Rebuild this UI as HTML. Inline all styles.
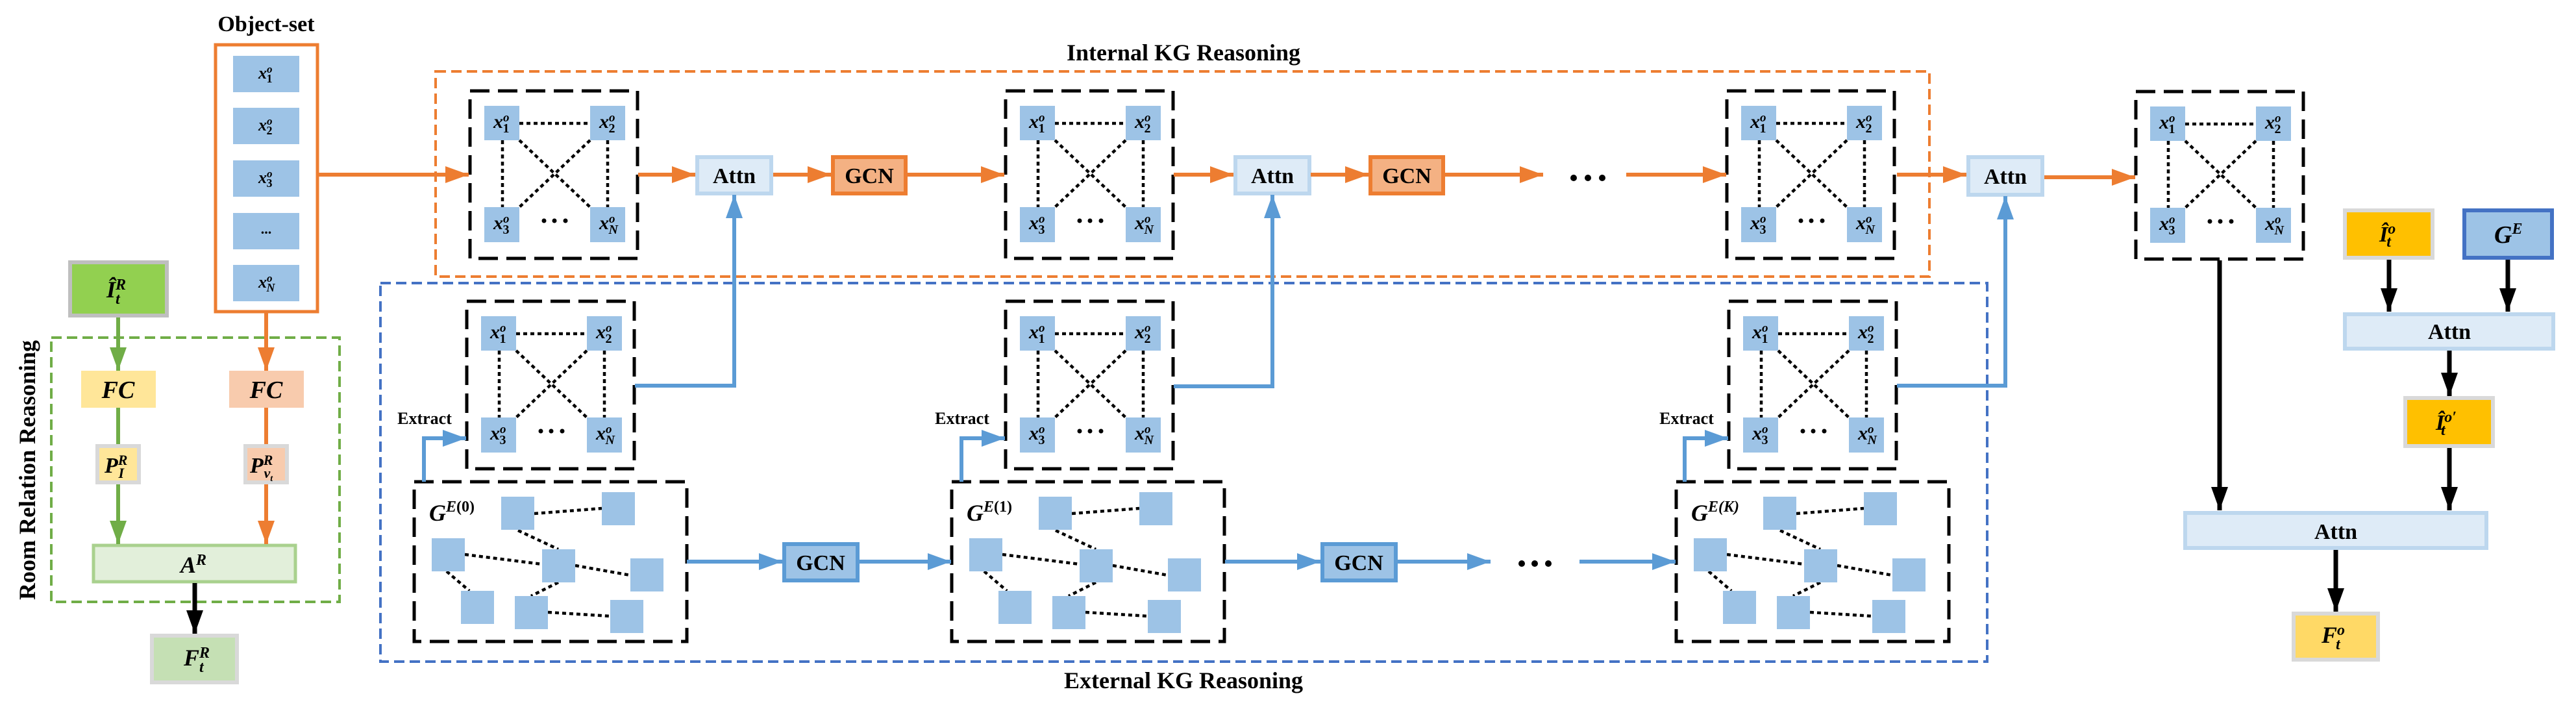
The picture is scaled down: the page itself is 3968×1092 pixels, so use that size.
<!DOCTYPE html>
<html><head><meta charset="utf-8"><style>
html,body{margin:0;padding:0;background:#fff;}
svg{display:block}
.t{font-family:"Liberation Serif",serif;font-weight:bold;fill:#000}
.m{font-family:"Liberation Serif",serif;font-weight:bold;font-style:italic;fill:#000}
.gb{fill:none;stroke:#000;stroke-width:5;stroke-dasharray:30 13}
.nd{fill:#9dc3e6}
.dl{stroke:#000;stroke-width:4.5;stroke-dasharray:6 5;fill:none}
.oa{stroke:#ed7d31;stroke-width:6;fill:none}
.ba{stroke:#5b9bd5;stroke-width:6;fill:none}
.ka{stroke:#000;stroke-width:7;fill:none}
.ga{stroke:#70ad47;stroke-width:6;fill:none}
</style></head><body>
<svg width="3968" height="1092" viewBox="0 0 3968 1092" xmlns="http://www.w3.org/2000/svg">
<defs>
<marker id="mo" markerUnits="userSpaceOnUse" markerWidth="40" markerHeight="30" refX="36" refY="13" orient="auto"><path d="M0,0 L36,13 L0,26 z" fill="#ed7d31"/></marker>
<marker id="mb" markerUnits="userSpaceOnUse" markerWidth="40" markerHeight="30" refX="36" refY="13" orient="auto"><path d="M0,0 L36,13 L0,26 z" fill="#5b9bd5"/></marker>
<marker id="mk" markerUnits="userSpaceOnUse" markerWidth="40" markerHeight="30" refX="36" refY="13" orient="auto"><path d="M0,0 L36,13 L0,26 z" fill="#000"/></marker>
<marker id="mg" markerUnits="userSpaceOnUse" markerWidth="40" markerHeight="30" refX="36" refY="13" orient="auto"><path d="M0,0 L36,13 L0,26 z" fill="#70ad47"/></marker>
</defs>

<!-- region boxes -->
<rect x="671" y="110" width="2301" height="316" fill="none" stroke="#ed7d31" stroke-width="4" stroke-dasharray="16 8"/>
<rect x="586" y="436" width="2475" height="583" fill="none" stroke="#4472c4" stroke-width="4" stroke-dasharray="16 8"/>
<text class="t" x="1823" y="93" font-size="36" text-anchor="middle">Internal KG Reasoning</text>
<text class="t" x="1823" y="1060" font-size="36" text-anchor="middle">External KG Reasoning</text>

<!-- Object set -->
<text class="t" x="410" y="48" font-size="34" text-anchor="middle">Object-set</text>
<rect x="332" y="69" width="157" height="411" fill="#fff" stroke="#ed7d31" stroke-width="5"/>
<rect x="359" y="86" width="102" height="56" class="nd"/>
<rect x="359" y="166" width="102" height="56" class="nd"/>
<rect x="359" y="247" width="102" height="56" class="nd"/>
<rect x="359" y="328" width="102" height="56" class="nd"/>
<rect x="359" y="408" width="102" height="56" class="nd"/>
<text class="m" x="398" y="121" font-size="26">x<tspan dy="-9" font-size="17">o</tspan><tspan dx="-9" dy="15" font-size="18" font-style="normal">1</tspan></text>
<text class="m" x="398" y="201" font-size="26">x<tspan dy="-9" font-size="17">o</tspan><tspan dx="-9" dy="15" font-size="18" font-style="normal">2</tspan></text>
<text class="m" x="398" y="282" font-size="26">x<tspan dy="-9" font-size="17">o</tspan><tspan dx="-9" dy="15" font-size="18" font-style="normal">3</tspan></text>
<text class="t" x="410" y="360" font-size="22" text-anchor="middle">...</text>
<text class="m" x="398" y="443" font-size="26">x<tspan dy="-9" font-size="17">o</tspan><tspan dx="-9" dy="15" font-size="18">N</tspan></text>

<!-- Room relation -->
<text class="t" x="0" y="0" font-size="36" text-anchor="middle" transform="translate(54,724) rotate(-90)">Room Relation Reasoning</text>
<rect x="79" y="520" width="444" height="407" fill="none" stroke="#70ad47" stroke-width="4" stroke-dasharray="16 8"/>
<rect x="108" y="404" width="149" height="82" fill="#92d050" stroke="#bfbfbf" stroke-width="6"/>
<text class="m" x="164" y="458" font-size="36">Î<tspan dy="-12" font-size="24">R</tspan><tspan dx="-16" dy="22" font-size="24">t</tspan></text>
<rect x="125" y="571" width="115" height="57" fill="#ffe699"/>
<text class="m" x="182" y="613" font-size="38" text-anchor="middle">FC</text>
<rect x="353" y="571" width="115" height="57" fill="#f8cbad"/>
<text class="m" x="410" y="613" font-size="38" text-anchor="middle">FC</text>
<rect x="150" y="687" width="64" height="56" fill="#ffe699" stroke="#d9d9d9" stroke-width="6"/>
<text class="m" x="161" y="728" font-size="34">P<tspan dy="-12" font-size="22">R</tspan><tspan dx="-14" dy="20" font-size="22">I</tspan></text>
<rect x="378" y="687" width="64" height="56" fill="#f8cbad" stroke="#d9d9d9" stroke-width="6"/>
<text class="m" x="385" y="728" font-size="34">P<tspan dy="-12" font-size="22">R</tspan><tspan dx="-14" dy="20" font-size="22">v</tspan><tspan dy="5" font-size="14">t</tspan></text>
<rect x="144" y="840" width="311" height="56" fill="#e2efda" stroke="#a9d18e" stroke-width="5"/>
<text class="m" x="278" y="882" font-size="36">A<tspan dy="-12" font-size="24">R</tspan></text>
<rect x="234" y="979" width="131" height="72" fill="#c5e0b4" stroke="#d9d9d9" stroke-width="6"/>
<text class="m" x="283" y="1025" font-size="36">F<tspan dy="-12" font-size="24">R</tspan><tspan dx="-16" dy="22" font-size="24">t</tspan></text>
<line class="ga" x1="182" y1="489" x2="182" y2="571" marker-end="url(#mg)"/>
<line class="ga" x1="182" y1="628" x2="182" y2="684"/>
<line class="ga" x1="182" y1="746" x2="182" y2="838" marker-end="url(#mg)"/>
<line class="oa" x1="410" y1="482" x2="410" y2="571" marker-end="url(#mo)"/>
<line class="oa" x1="410" y1="628" x2="410" y2="684"/>
<line class="oa" x1="410" y1="746" x2="410" y2="838" marker-end="url(#mo)"/>
<line class="ka" x1="300" y1="898" x2="300" y2="976" marker-end="url(#mk)"/>

<!-- Graph boxes (x-set) -->
<g transform="translate(724,140)">
<rect x="0" y="0" width="258" height="258" class="gb"/>
<line class="dl" x1="76" y1="50" x2="185" y2="50"/><line class="dl" x1="50" y1="76" x2="50" y2="179"/><line class="dl" x1="212" y1="76" x2="212" y2="179"/><line class="dl" x1="76" y1="76" x2="185" y2="179"/><line class="dl" x1="185" y1="76" x2="76" y2="179"/>
<rect class="nd" x="22" y="23" width="54" height="53"/><rect class="nd" x="185" y="23" width="54" height="53"/><rect class="nd" x="22" y="179" width="54" height="54"/><rect class="nd" x="185" y="179" width="54" height="54"/>
<circle cx="114" cy="200" r="3.5"/><circle cx="130" cy="200" r="3.5"/><circle cx="147" cy="200" r="3.5"/>
<text class="m" x="36" y="57" font-size="30">x<tspan dy="-10" font-size="19">o</tspan><tspan dx="-10" dy="17" font-size="20" font-style="normal">1</tspan></text>
<text class="m" x="199" y="57" font-size="30">x<tspan dy="-10" font-size="19">o</tspan><tspan dx="-10" dy="17" font-size="20" font-style="normal">2</tspan></text>
<text class="m" x="36" y="213" font-size="30">x<tspan dy="-10" font-size="19">o</tspan><tspan dx="-10" dy="17" font-size="20" font-style="normal">3</tspan></text>
<text class="m" x="199" y="213" font-size="30">x<tspan dy="-10" font-size="19">o</tspan><tspan dx="-10" dy="17" font-size="20">N</tspan></text>
</g>
<g transform="translate(1549,140)">
<rect x="0" y="0" width="258" height="258" class="gb"/>
<line class="dl" x1="76" y1="50" x2="185" y2="50"/><line class="dl" x1="50" y1="76" x2="50" y2="179"/><line class="dl" x1="212" y1="76" x2="212" y2="179"/><line class="dl" x1="76" y1="76" x2="185" y2="179"/><line class="dl" x1="185" y1="76" x2="76" y2="179"/>
<rect class="nd" x="22" y="23" width="54" height="53"/><rect class="nd" x="185" y="23" width="54" height="53"/><rect class="nd" x="22" y="179" width="54" height="54"/><rect class="nd" x="185" y="179" width="54" height="54"/>
<circle cx="114" cy="200" r="3.5"/><circle cx="130" cy="200" r="3.5"/><circle cx="147" cy="200" r="3.5"/>
<text class="m" x="36" y="57" font-size="30">x<tspan dy="-10" font-size="19">o</tspan><tspan dx="-10" dy="17" font-size="20" font-style="normal">1</tspan></text>
<text class="m" x="199" y="57" font-size="30">x<tspan dy="-10" font-size="19">o</tspan><tspan dx="-10" dy="17" font-size="20" font-style="normal">2</tspan></text>
<text class="m" x="36" y="213" font-size="30">x<tspan dy="-10" font-size="19">o</tspan><tspan dx="-10" dy="17" font-size="20" font-style="normal">3</tspan></text>
<text class="m" x="199" y="213" font-size="30">x<tspan dy="-10" font-size="19">o</tspan><tspan dx="-10" dy="17" font-size="20">N</tspan></text>
</g>
<g transform="translate(2660,140)">
<rect x="0" y="0" width="258" height="258" class="gb"/>
<line class="dl" x1="76" y1="50" x2="185" y2="50"/><line class="dl" x1="50" y1="76" x2="50" y2="179"/><line class="dl" x1="212" y1="76" x2="212" y2="179"/><line class="dl" x1="76" y1="76" x2="185" y2="179"/><line class="dl" x1="185" y1="76" x2="76" y2="179"/>
<rect class="nd" x="22" y="23" width="54" height="53"/><rect class="nd" x="185" y="23" width="54" height="53"/><rect class="nd" x="22" y="179" width="54" height="54"/><rect class="nd" x="185" y="179" width="54" height="54"/>
<circle cx="114" cy="200" r="3.5"/><circle cx="130" cy="200" r="3.5"/><circle cx="147" cy="200" r="3.5"/>
<text class="m" x="36" y="57" font-size="30">x<tspan dy="-10" font-size="19">o</tspan><tspan dx="-10" dy="17" font-size="20" font-style="normal">1</tspan></text>
<text class="m" x="199" y="57" font-size="30">x<tspan dy="-10" font-size="19">o</tspan><tspan dx="-10" dy="17" font-size="20" font-style="normal">2</tspan></text>
<text class="m" x="36" y="213" font-size="30">x<tspan dy="-10" font-size="19">o</tspan><tspan dx="-10" dy="17" font-size="20" font-style="normal">3</tspan></text>
<text class="m" x="199" y="213" font-size="30">x<tspan dy="-10" font-size="19">o</tspan><tspan dx="-10" dy="17" font-size="20">N</tspan></text>
</g>
<g transform="translate(3290,141)">
<rect x="0" y="0" width="258" height="258" class="gb"/>
<line class="dl" x1="76" y1="50" x2="185" y2="50"/><line class="dl" x1="50" y1="76" x2="50" y2="179"/><line class="dl" x1="212" y1="76" x2="212" y2="179"/><line class="dl" x1="76" y1="76" x2="185" y2="179"/><line class="dl" x1="185" y1="76" x2="76" y2="179"/>
<rect class="nd" x="22" y="23" width="54" height="53"/><rect class="nd" x="185" y="23" width="54" height="53"/><rect class="nd" x="22" y="179" width="54" height="54"/><rect class="nd" x="185" y="179" width="54" height="54"/>
<circle cx="114" cy="200" r="3.5"/><circle cx="130" cy="200" r="3.5"/><circle cx="147" cy="200" r="3.5"/>
<text class="m" x="36" y="57" font-size="30">x<tspan dy="-10" font-size="19">o</tspan><tspan dx="-10" dy="17" font-size="20" font-style="normal">1</tspan></text>
<text class="m" x="199" y="57" font-size="30">x<tspan dy="-10" font-size="19">o</tspan><tspan dx="-10" dy="17" font-size="20" font-style="normal">2</tspan></text>
<text class="m" x="36" y="213" font-size="30">x<tspan dy="-10" font-size="19">o</tspan><tspan dx="-10" dy="17" font-size="20" font-style="normal">3</tspan></text>
<text class="m" x="199" y="213" font-size="30">x<tspan dy="-10" font-size="19">o</tspan><tspan dx="-10" dy="17" font-size="20">N</tspan></text>
</g>
<g transform="translate(719,464)">
<rect x="0" y="0" width="258" height="258" class="gb"/>
<line class="dl" x1="76" y1="50" x2="185" y2="50"/><line class="dl" x1="50" y1="76" x2="50" y2="179"/><line class="dl" x1="212" y1="76" x2="212" y2="179"/><line class="dl" x1="76" y1="76" x2="185" y2="179"/><line class="dl" x1="185" y1="76" x2="76" y2="179"/>
<rect class="nd" x="22" y="23" width="54" height="53"/><rect class="nd" x="185" y="23" width="54" height="53"/><rect class="nd" x="22" y="179" width="54" height="54"/><rect class="nd" x="185" y="179" width="54" height="54"/>
<circle cx="114" cy="200" r="3.5"/><circle cx="130" cy="200" r="3.5"/><circle cx="147" cy="200" r="3.5"/>
<text class="m" x="36" y="57" font-size="30">x<tspan dy="-10" font-size="19">o</tspan><tspan dx="-10" dy="17" font-size="20" font-style="normal">1</tspan></text>
<text class="m" x="199" y="57" font-size="30">x<tspan dy="-10" font-size="19">o</tspan><tspan dx="-10" dy="17" font-size="20" font-style="normal">2</tspan></text>
<text class="m" x="36" y="213" font-size="30">x<tspan dy="-10" font-size="19">o</tspan><tspan dx="-10" dy="17" font-size="20" font-style="normal">3</tspan></text>
<text class="m" x="199" y="213" font-size="30">x<tspan dy="-10" font-size="19">o</tspan><tspan dx="-10" dy="17" font-size="20">N</tspan></text>
</g>
<g transform="translate(1549,464)">
<rect x="0" y="0" width="258" height="258" class="gb"/>
<line class="dl" x1="76" y1="50" x2="185" y2="50"/><line class="dl" x1="50" y1="76" x2="50" y2="179"/><line class="dl" x1="212" y1="76" x2="212" y2="179"/><line class="dl" x1="76" y1="76" x2="185" y2="179"/><line class="dl" x1="185" y1="76" x2="76" y2="179"/>
<rect class="nd" x="22" y="23" width="54" height="53"/><rect class="nd" x="185" y="23" width="54" height="53"/><rect class="nd" x="22" y="179" width="54" height="54"/><rect class="nd" x="185" y="179" width="54" height="54"/>
<circle cx="114" cy="200" r="3.5"/><circle cx="130" cy="200" r="3.5"/><circle cx="147" cy="200" r="3.5"/>
<text class="m" x="36" y="57" font-size="30">x<tspan dy="-10" font-size="19">o</tspan><tspan dx="-10" dy="17" font-size="20" font-style="normal">1</tspan></text>
<text class="m" x="199" y="57" font-size="30">x<tspan dy="-10" font-size="19">o</tspan><tspan dx="-10" dy="17" font-size="20" font-style="normal">2</tspan></text>
<text class="m" x="36" y="213" font-size="30">x<tspan dy="-10" font-size="19">o</tspan><tspan dx="-10" dy="17" font-size="20" font-style="normal">3</tspan></text>
<text class="m" x="199" y="213" font-size="30">x<tspan dy="-10" font-size="19">o</tspan><tspan dx="-10" dy="17" font-size="20">N</tspan></text>
</g>
<g transform="translate(2663,464)">
<rect x="0" y="0" width="258" height="258" class="gb"/>
<line class="dl" x1="76" y1="50" x2="185" y2="50"/><line class="dl" x1="50" y1="76" x2="50" y2="179"/><line class="dl" x1="212" y1="76" x2="212" y2="179"/><line class="dl" x1="76" y1="76" x2="185" y2="179"/><line class="dl" x1="185" y1="76" x2="76" y2="179"/>
<rect class="nd" x="22" y="23" width="54" height="53"/><rect class="nd" x="185" y="23" width="54" height="53"/><rect class="nd" x="22" y="179" width="54" height="54"/><rect class="nd" x="185" y="179" width="54" height="54"/>
<circle cx="114" cy="200" r="3.5"/><circle cx="130" cy="200" r="3.5"/><circle cx="147" cy="200" r="3.5"/>
<text class="m" x="36" y="57" font-size="30">x<tspan dy="-10" font-size="19">o</tspan><tspan dx="-10" dy="17" font-size="20" font-style="normal">1</tspan></text>
<text class="m" x="199" y="57" font-size="30">x<tspan dy="-10" font-size="19">o</tspan><tspan dx="-10" dy="17" font-size="20" font-style="normal">2</tspan></text>
<text class="m" x="36" y="213" font-size="30">x<tspan dy="-10" font-size="19">o</tspan><tspan dx="-10" dy="17" font-size="20" font-style="normal">3</tspan></text>
<text class="m" x="199" y="213" font-size="30">x<tspan dy="-10" font-size="19">o</tspan><tspan dx="-10" dy="17" font-size="20">N</tspan></text>
</g>

<!-- G^E boxes -->
<g transform="translate(638,742)">
<rect x="0" y="0" width="420" height="246" class="gb"/>
<line class="dl" x1="185" y1="49" x2="289" y2="41"/><line class="dl" x1="160" y1="75" x2="222" y2="104"/><line class="dl" x1="78" y1="112" x2="197" y2="127"/><line class="dl" x1="248" y1="129" x2="333" y2="144"/><line class="dl" x1="50" y1="138" x2="85" y2="168"/><line class="dl" x1="222" y1="155" x2="180" y2="176"/><line class="dl" x1="206" y1="201" x2="302" y2="207"/>
<rect class="nd" x="134" y="23" width="51" height="51"/><rect class="nd" x="289" y="16" width="51" height="51"/><rect class="nd" x="27" y="87" width="51" height="51"/><rect class="nd" x="197" y="104" width="51" height="51"/><rect class="nd" x="333" y="118" width="51" height="51"/><rect class="nd" x="72" y="168" width="51" height="51"/><rect class="nd" x="155" y="176" width="51" height="51"/><rect class="nd" x="302" y="182" width="51" height="51"/>
<text class="m" x="23" y="60" font-size="36">G<tspan dy="-14" font-size="24">E</tspan><tspan font-size="24" font-style="normal">(0)</tspan></text>
</g>
<g transform="translate(1466,742)">
<rect x="0" y="0" width="420" height="246" class="gb"/>
<line class="dl" x1="185" y1="49" x2="289" y2="41"/><line class="dl" x1="160" y1="75" x2="222" y2="104"/><line class="dl" x1="78" y1="112" x2="197" y2="127"/><line class="dl" x1="248" y1="129" x2="333" y2="144"/><line class="dl" x1="50" y1="138" x2="85" y2="168"/><line class="dl" x1="222" y1="155" x2="180" y2="176"/><line class="dl" x1="206" y1="201" x2="302" y2="207"/>
<rect class="nd" x="134" y="23" width="51" height="51"/><rect class="nd" x="289" y="16" width="51" height="51"/><rect class="nd" x="27" y="87" width="51" height="51"/><rect class="nd" x="197" y="104" width="51" height="51"/><rect class="nd" x="333" y="118" width="51" height="51"/><rect class="nd" x="72" y="168" width="51" height="51"/><rect class="nd" x="155" y="176" width="51" height="51"/><rect class="nd" x="302" y="182" width="51" height="51"/>
<text class="m" x="23" y="60" font-size="36">G<tspan dy="-14" font-size="24">E</tspan><tspan font-size="24" font-style="normal">(1)</tspan></text>
</g>
<g transform="translate(2582,742)">
<rect x="0" y="0" width="420" height="246" class="gb"/>
<line class="dl" x1="185" y1="49" x2="289" y2="41"/><line class="dl" x1="160" y1="75" x2="222" y2="104"/><line class="dl" x1="78" y1="112" x2="197" y2="127"/><line class="dl" x1="248" y1="129" x2="333" y2="144"/><line class="dl" x1="50" y1="138" x2="85" y2="168"/><line class="dl" x1="222" y1="155" x2="180" y2="176"/><line class="dl" x1="206" y1="201" x2="302" y2="207"/>
<rect class="nd" x="134" y="23" width="51" height="51"/><rect class="nd" x="289" y="16" width="51" height="51"/><rect class="nd" x="27" y="87" width="51" height="51"/><rect class="nd" x="197" y="104" width="51" height="51"/><rect class="nd" x="333" y="118" width="51" height="51"/><rect class="nd" x="72" y="168" width="51" height="51"/><rect class="nd" x="155" y="176" width="51" height="51"/><rect class="nd" x="302" y="182" width="51" height="51"/>
<text class="m" x="23" y="60" font-size="36">G<tspan dy="-14" font-size="24">E</tspan><tspan font-size="24">(K)</tspan></text>
</g>

<!-- Attn / GCN boxes -->
<rect x="1074" y="242" width="114" height="56" fill="#deebf7" stroke="#bdd7ee" stroke-width="6"/>
<text class="t" x="1131" y="282" font-size="34" text-anchor="middle">Attn</text>
<rect x="1283" y="242" width="112" height="56" fill="#f4b183" stroke="#ed7d31" stroke-width="6"/>
<text class="t" x="1339" y="282" font-size="34" text-anchor="middle">GCN</text>
<rect x="1903" y="242" width="114" height="56" fill="#deebf7" stroke="#bdd7ee" stroke-width="6"/>
<text class="t" x="1960" y="282" font-size="34" text-anchor="middle">Attn</text>
<rect x="2111" y="242" width="112" height="56" fill="#f4b183" stroke="#ed7d31" stroke-width="6"/>
<text class="t" x="2167" y="282" font-size="34" text-anchor="middle">GCN</text>
<rect x="3032" y="242" width="114" height="58" fill="#deebf7" stroke="#bdd7ee" stroke-width="6"/>
<text class="t" x="3089" y="283" font-size="34" text-anchor="middle">Attn</text>
<rect x="1208" y="838" width="113" height="56" fill="#9dc3e6" stroke="#5b9bd5" stroke-width="6"/>
<text class="t" x="1264" y="878" font-size="34" text-anchor="middle">GCN</text>
<rect x="2037" y="838" width="113" height="56" fill="#9dc3e6" stroke="#5b9bd5" stroke-width="6"/>
<text class="t" x="2093" y="878" font-size="34" text-anchor="middle">GCN</text>

<!-- orange arrows -->
<line class="oa" x1="491" y1="269" x2="722" y2="269" marker-end="url(#mo)"/>
<line class="oa" x1="983" y1="269" x2="1071" y2="269" marker-end="url(#mo)"/>
<line class="oa" x1="1191" y1="269" x2="1280" y2="269" marker-end="url(#mo)"/>
<line class="oa" x1="1398" y1="269" x2="1547" y2="269" marker-end="url(#mo)"/>
<line class="oa" x1="1808" y1="269" x2="1900" y2="269" marker-end="url(#mo)"/>
<line class="oa" x1="2019" y1="269" x2="2108" y2="269" marker-end="url(#mo)"/>
<line class="oa" x1="2226" y1="269" x2="2377" y2="269" marker-end="url(#mo)"/>
<circle cx="2424" cy="274" r="5"/><circle cx="2446" cy="274" r="5"/><circle cx="2468" cy="274" r="5"/>
<line class="oa" x1="2505" y1="269" x2="2659" y2="269" marker-end="url(#mo)"/>
<line class="oa" x1="2922" y1="269" x2="3029" y2="269" marker-end="url(#mo)"/>
<line class="oa" x1="3149" y1="273" x2="3289" y2="273" marker-end="url(#mo)"/>

<!-- blue arrows -->
<line class="ba" x1="1058" y1="865" x2="1205" y2="865" marker-end="url(#mb)"/>
<line class="ba" x1="1324" y1="865" x2="1465" y2="865" marker-end="url(#mb)"/>
<line class="ba" x1="1887" y1="865" x2="2034" y2="865" marker-end="url(#mb)"/>
<line class="ba" x1="2153" y1="865" x2="2296" y2="865" marker-end="url(#mb)"/>
<circle cx="2344" cy="868" r="5"/><circle cx="2364" cy="868" r="5"/><circle cx="2385" cy="868" r="5"/>
<line class="ba" x1="2433" y1="865" x2="2581" y2="865" marker-end="url(#mb)"/>
<polyline class="ba" points="978,594 1131,594 1131,300" marker-end="url(#mb)"/>
<polyline class="ba" points="1808,595 1960,595 1960,300" marker-end="url(#mb)"/>
<polyline class="ba" points="2922,594 3089,594 3089,302" marker-end="url(#mb)"/>
<polyline class="ba" points="653,742 653,675 718,675" marker-end="url(#mb)"/>
<polyline class="ba" points="1481,742 1481,675 1548,675" marker-end="url(#mb)"/>
<polyline class="ba" points="2595,742 2595,675 2662,675" marker-end="url(#mb)"/>
<text class="t" x="654" y="653" font-size="26" text-anchor="middle">Extract</text>
<text class="t" x="1482" y="653" font-size="26" text-anchor="middle">Extract</text>
<text class="t" x="2598" y="653" font-size="26" text-anchor="middle">Extract</text>

<!-- right side -->
<rect x="3612" y="324" width="135" height="73" fill="#ffc000" stroke="#d9d9d9" stroke-width="6"/>
<text class="m" x="3665" y="372" font-size="34">Î<tspan dy="-12" font-size="24">o</tspan><tspan dx="-14" dy="20" font-size="24">t</tspan></text>
<rect x="3796" y="324" width="135" height="73" fill="#9dc3e6" stroke="#4472c4" stroke-width="6"/>
<text class="m" x="3842" y="374" font-size="38">G<tspan dy="-14" font-size="24">E</tspan></text>
<rect x="3612" y="484" width="321" height="53" fill="#deebf7" stroke="#bdd7ee" stroke-width="6"/>
<text class="t" x="3773" y="522" font-size="34" text-anchor="middle">Attn</text>
<rect x="3705" y="613" width="135" height="74" fill="#ffc000" stroke="#d9d9d9" stroke-width="6"/>
<text class="m" x="3752" y="662" font-size="34">Î<tspan dy="-12" font-size="24">o′</tspan><tspan dx="-24" dy="20" font-size="24">t</tspan></text>
<rect x="3366" y="790" width="464" height="54" fill="#deebf7" stroke="#bdd7ee" stroke-width="6"/>
<text class="t" x="3598" y="830" font-size="34" text-anchor="middle">Attn</text>
<rect x="3533" y="945" width="130" height="71" fill="#ffd966" stroke="#d9d9d9" stroke-width="6"/>
<text class="m" x="3576" y="990" font-size="36">F<tspan dy="-12" font-size="24">o</tspan><tspan dx="-14" dy="22" font-size="24">t</tspan></text>
<line class="ka" x1="3419" y1="401" x2="3419" y2="786" marker-end="url(#mk)"/>
<line class="ka" x1="3680" y1="400" x2="3680" y2="480" marker-end="url(#mk)"/>
<line class="ka" x1="3863" y1="400" x2="3863" y2="480" marker-end="url(#mk)"/>
<line class="ka" x1="3773" y1="540" x2="3773" y2="610" marker-end="url(#mk)"/>
<line class="ka" x1="3773" y1="690" x2="3773" y2="786" marker-end="url(#mk)"/>
<line class="ka" x1="3598" y1="847" x2="3598" y2="942" marker-end="url(#mk)"/>
</svg>
</body></html>
